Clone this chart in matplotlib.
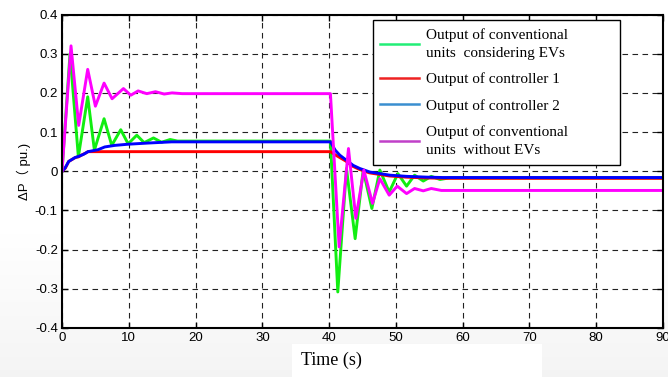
import numpy as np
import matplotlib
matplotlib.use('Agg')
import matplotlib.pyplot as plt
from matplotlib.lines import Line2D
from matplotlib.patches import Rectangle

# --- DATA (time in s, delta P in pu) ---
# conventional units, considering EVs
ev_t = [0, 1.2, 2.45, 3.85, 4.85, 6.3, 7.45, 8.8, 9.9, 11.2, 12.3, 13.7, 14.9, 16.2, 17.3,
        40.2, 41.3, 42.6, 43.9, 45.1, 46.4, 47.6, 49.0, 50.3, 51.6, 52.8, 54.1, 55.3, 56.6, 58.0, 90]
ev_p = [0, 0.30, 0.037, 0.19, 0.054, 0.134, 0.066, 0.106, 0.07, 0.092, 0.073, 0.085, 0.074, 0.081, 0.077,
        0.077, -0.308, 0.007, -0.172, 0.003, -0.095, 0.003, -0.053, -0.006, -0.038, -0.01, -0.025, -0.013, -0.021, -0.017, -0.017]

# controller 1
c1_t = [0, 0.5, 1.0, 1.5, 2.0, 2.5, 3.0, 3.5, 3.9, 5.0,
        40.2, 40.8, 41.5, 42.5, 43.5, 44.5, 46.0, 47.5, 49.0, 51.5, 54.5, 57, 90]
c1_p = [0, 0.008, 0.025, 0.03, 0.035, 0.037, 0.042, 0.046, 0.05, 0.05,
        0.05, 0.043, 0.036, 0.026, 0.013, 0.005, -0.004, -0.008, -0.012, -0.015, -0.017, -0.018, -0.018]

# controller 2
c2_t = [0, 0.45, 1.0, 1.95, 2.5, 3.2, 3.9, 5.4, 6.4, 7.9, 9.9, 12.9, 16.4,
        40.2, 40.9, 41.6, 42.6, 43.6, 44.6, 46.1, 47.6, 49.1, 51.6, 54.6, 57, 90]
c2_p = [0, 0.008, 0.025, 0.035, 0.038, 0.043, 0.05, 0.055, 0.062, 0.066, 0.069, 0.072, 0.075,
        0.075, 0.054, 0.041, 0.028, 0.015, 0.007, -0.002, -0.006, -0.01, -0.013, -0.015, -0.016, -0.016]

# conventional units, without EVs
noev_t = [0, 1.35, 2.5, 3.85, 5.0, 6.3, 7.5, 9.2, 10.3, 11.4, 12.7, 14.0, 15.3, 16.5, 18,
          40.2, 41.5, 42.9, 44.0, 45.2, 46.5, 47.6, 49.0, 50.2, 51.6, 52.8, 54.1, 55.3, 56.8, 90]
noev_p = [0, 0.32, 0.117, 0.26, 0.166, 0.225, 0.185, 0.211, 0.194, 0.205, 0.198, 0.203, 0.197, 0.2, 0.198,
          0.198, -0.193, 0.058, -0.12, 0.003, -0.082, -0.019, -0.061, -0.038, -0.057, -0.044, -0.05, -0.044, -0.049, -0.049]

labels = ['Output of conventional\nunits  considering EVs',
          'Output of controller 1',
          'Output of controller 2',
          'Output of conventional\nunits  without EVs']
x_ticks = [0, 10, 20, 30, 40, 50, 60, 70, 80, 90]
y_ticks = [-0.4, -0.3, -0.2, -0.1, 0, 0.1, 0.2, 0.3, 0.4]

fig = plt.figure(figsize=(6.68, 3.77), dpi=100, facecolor='white')

# faint grey shading towards the bottom of the sheet
bg = fig.add_axes([0, 0, 1, 1], zorder=-10)
shade = np.ones((377, 1))
rows = np.arange(377)
shade[rows > 220, 0] = 1 - 0.045 * (rows[rows > 220] - 220) / 157
bg.imshow(shade, cmap='gray', vmin=0, vmax=1, aspect='auto', extent=[0, 1, 0, 1])
bg.axis('off')
fig.patches.append(Rectangle((292 / 668, 0), 250 / 668, 33 / 377, transform=fig.transFigure,
                             facecolor='white', edgecolor='none', zorder=-5))

ax = fig.add_axes([62 / 668, 1 - 328 / 377, 601 / 668, 313.5 / 377])
ax.set_facecolor('white')

lw = 2.1
ax.plot(ev_t, ev_p, color='#11ee11', lw=lw)
ax.plot(c1_t, c1_p, color='#ff0000', lw=lw)
ax.plot(c2_t, c2_p, color='#0000ff', lw=lw)
ax.plot(noev_t, noev_p, color='#ff00ff', lw=lw)

ax.set_xlim(0, 90)
ax.set_ylim(-0.4, 0.4)
ax.set_xticks(x_ticks)
ax.set_xticklabels([str(t) for t in x_ticks])
ax.set_yticks(y_ticks)
ax.set_yticklabels(['-0.4', '-0.3', '-0.2', '-0.1', '0', '0.1', '0.2', '0.3', '0.4'])

ax.grid(True, color='#222222', linestyle=(0, (5, 4)), linewidth=0.8)
ax.tick_params(direction='in', length=4, width=1, top=True, right=True,
               labelsize=9.5, pad=3)
for lab in ax.get_xticklabels() + ax.get_yticklabels():
    lab.set_family('Liberation Sans')
for sp in ax.spines.values():
    sp.set_linewidth(1.5)

ax.set_ylabel('ΔP（ pu.)', family=['Liberation Sans', 'Noto Sans CJK SC'], fontsize=9.5, labelpad=3)
fig.text(331 / 668, 1 - 360 / 377, 'Time (s)', family='Liberation Serif', fontsize=13,
         ha='center', va='center')

handles = [Line2D([], [], color='#22ee77', lw=1.8),
           Line2D([], [], color='#ee2222', lw=1.8),
           Line2D([], [], color='#3a8fd0', lw=1.8),
           Line2D([], [], color='#c040c8', lw=1.8)]
leg = ax.legend(handles, labels, loc='upper left', bbox_to_anchor=(0.517, 0.5, 0.411, 0.482),
                mode='expand', prop={'family': 'Liberation Serif', 'size': 11},
                frameon=True, fancybox=False, framealpha=1, edgecolor='black',
                handlelength=2.5, handletextpad=0.5, labelspacing=0.82, borderpad=0.5,
                borderaxespad=0)
leg.get_frame().set_linewidth(1.0)
for t in leg.get_texts():
    t.set_linespacing(1.55)

fig.savefig('out.png', dpi=100)
